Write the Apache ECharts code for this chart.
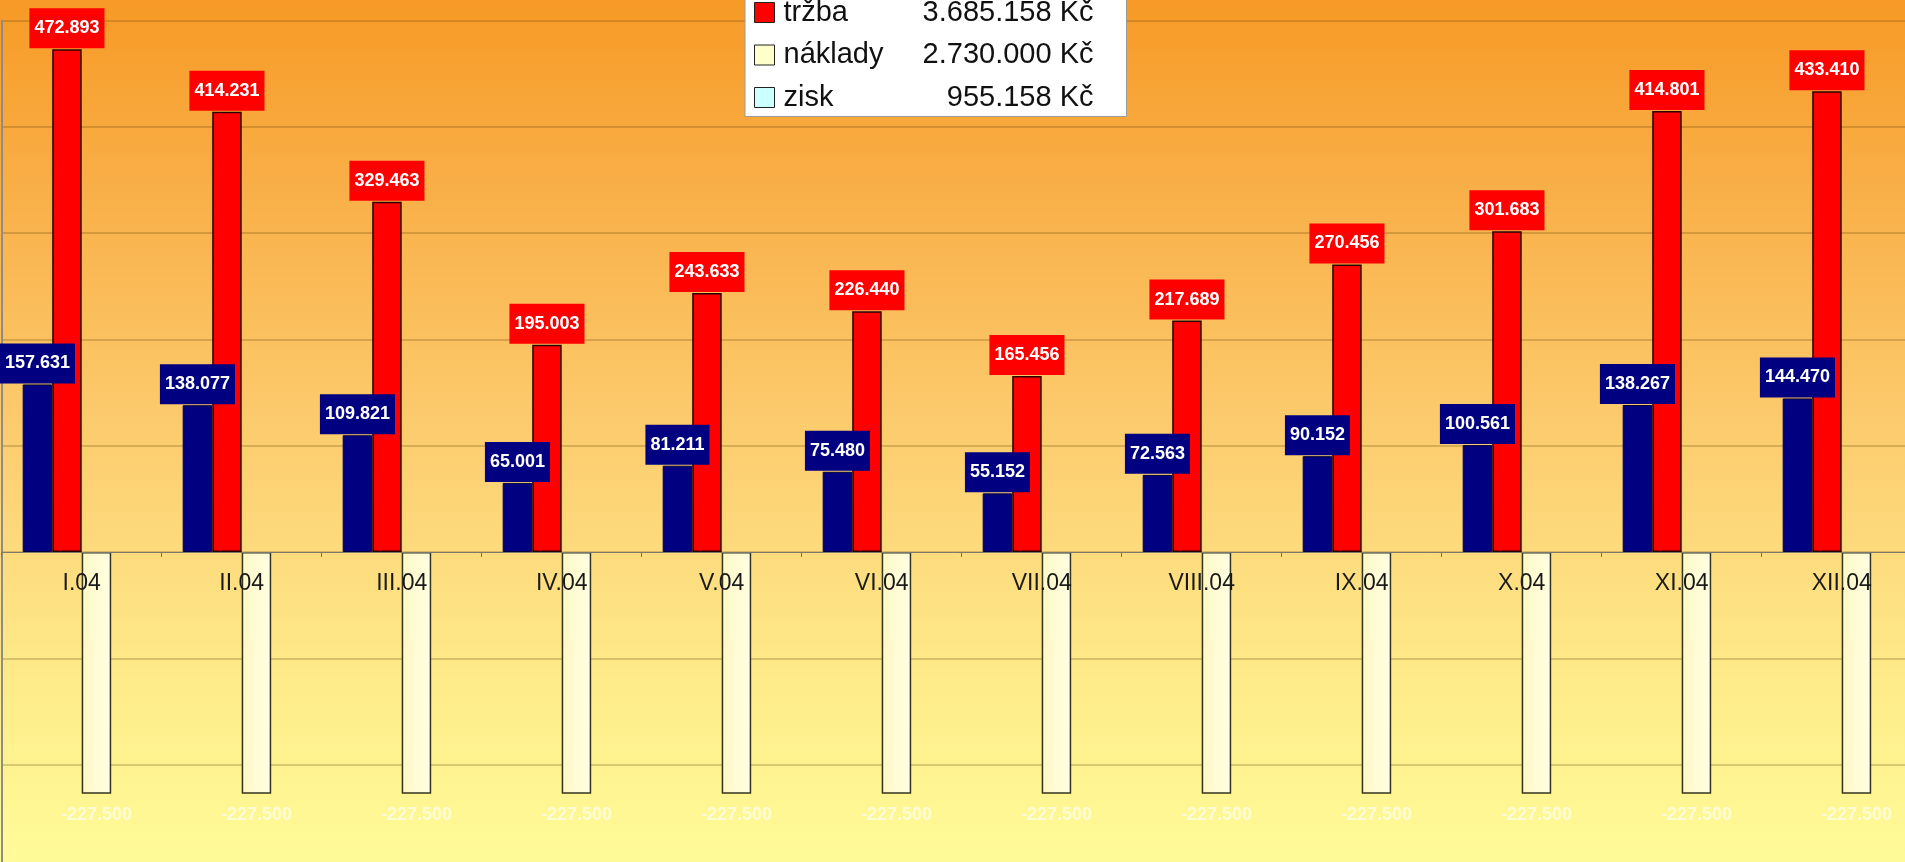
<!DOCTYPE html>
<html lang="cs">
<head>
<meta charset="utf-8">
<title>Tržba, náklady a zisk 2004</title>
<script src="https://cdn.jsdelivr.net/npm/echarts@6/dist/echarts.min.js"></script>
<style>
  html, body { margin: 0; padding: 0; overflow: hidden; }
  #chart { width: 1905px; height: 862px; }
</style>
</head>
<body>
<div id="chart"></div>
<script>
// Měsíce roku 2004
const months = ['I.04', 'II.04', 'III.04', 'IV.04', 'V.04', 'VI.04',
                'VII.04', 'VIII.04', 'IX.04', 'X.04', 'XI.04', 'XII.04'];

// Tržba za měsíc (Kč)
const trzba = [472893, 414231, 329463, 195003, 243633, 226440,
               165456, 217689, 270456, 301683, 414801, 433410];

// Zisk za měsíc (Kč)
const zisk = [157631, 138077, 109821, 65001, 81211, 75480,
              55152, 72563, 90152, 100561, 138267, 144470];

// Náklady za měsíc (Kč), vynášeny se záporným znaménkem
const naklady = [-227500, -227500, -227500, -227500, -227500, -227500,
                 -227500, -227500, -227500, -227500, -227500, -227500];

// Rozsah a krok svislé osy
const yMin = -300000;
const yMax = 500000;
const yStep = 100000;

// Číslo s tečkami jako oddělovači tisíců
function fmt(v) {
  const s = Math.round(Math.abs(v)).toString().replace(/\B(?=(\d{3})+(?!\d))/g, '.');
  return (v < 0 ? '-' : '') + s;
}

const sum = a => a.reduce((s, v) => s + v, 0);
const totalTrzba = sum(trzba);
const totalNaklady = -sum(naklady);
const totals = {
  'tržba': totalTrzba,
  'náklady': totalNaklady,
  'zisk': totalTrzba - totalNaklady
};

const FONT = 'Arial, "Liberation Sans", sans-serif';
const BAR_W = 29.5;

// Plocha grafu: horní okraj (hodnota yMax) a výška celé osy
const GRID_TOP = 20.5;
const GRID_H = 850.4;
// posun osy kategorií z dolního okraje na nulovou hodnotu
const X_OFFSET = -GRID_H * (0 - yMin) / (yMax - yMin);

function boxLabel(bg) {
  return {
    show: true,
    position: 'top',
    distance: 1,
    backgroundColor: bg,
    color: '#FFFFFF',
    fontFamily: FONT,
    fontWeight: 'bold',
    fontSize: 18,
    lineHeight: 20,
    padding: [10, 5, 10, 5],
    formatter: p => fmt(p.value)
  };
}

const chart = echarts.init(document.getElementById('chart'), null, { renderer: 'canvas' });

chart.setOption({
  animation: false,
  backgroundColor: {
    type: 'linear', x: 0, y: 0, x2: 0, y2: 1,
    colorStops: [
      { offset: 0.00, color: '#F79A26' },
      { offset: 0.25, color: '#F9B24C' },
      { offset: 0.50, color: '#FCCC6E' },
      { offset: 0.65, color: '#FDDC7E' },
      { offset: 0.80, color: '#FEEC8A' },
      { offset: 1.00, color: '#FFFB98' }
    ]
  },
  legend: {
    left: 745,
    top: -14.5,
    orient: 'vertical',
    backgroundColor: '#FFFFFF',
    borderColor: '#9A9A9A',
    borderWidth: 1,
    borderRadius: 0,
    padding: [10, 33, 2, 9],
    itemGap: 8.5,
    itemWidth: 20,
    itemHeight: 20,
    icon: 'rect',
    selectedMode: false,
    itemStyle: { borderColor: '#222222', borderWidth: 1 },
    data: [
      { name: 'tržba', itemStyle: { color: '#FF0000' } },
      { name: 'náklady', itemStyle: { color: '#FFFFCC' } },
      { name: 'zisk', itemStyle: { color: '#CCFFFF' } }
    ],
    formatter: name => '{n|' + name + '}{v|' + fmt(totals[name]) + ' Kč}',
    textStyle: {
      fontFamily: FONT,
      fontSize: 29,
      color: '#111111',
      lineHeight: 34,
      rich: {
        n: { fontFamily: FONT, fontSize: 29, color: '#111111', width: 120, padding: [0, 0, 0, 4] },
        v: { fontFamily: FONT, fontSize: 29, color: '#111111', width: 190, align: 'right' }
      }
    }
  },
  grid: {
    left: 1.7,
    top: GRID_TOP,
    width: 1920,
    height: GRID_H,
    containLabel: false,
    outerBoundsMode: 'none'
  },
  xAxis: {
    type: 'category',
    data: months,
    z: 10,
    offset: X_OFFSET,
    axisLine: { onZero: false, lineStyle: { color: '#7A7A6A', width: 1 } },
    axisTick: { show: true, length: 5, lineStyle: { color: '#7A7A6A' } },
    axisLabel: {
      color: '#1A1A1A',
      fontFamily: FONT,
      fontSize: 23,
      margin: 20
    },
    splitLine: { show: false }
  },
  yAxis: {
    type: 'value',
    min: yMin,
    max: yMax,
    interval: yStep,
    axisLine: { show: true, lineStyle: { color: '#8C8C8C', width: 2 } },
    axisTick: { show: false },
    axisLabel: { show: false },
    splitLine: { show: true, lineStyle: { color: 'rgba(90, 55, 0, 0.30)', width: 1.5 } }
  },
  series: [
    {
      name: 'zisk',
      type: 'bar',
      data: zisk,
      barWidth: BAR_W,
      barGap: '0%',
      itemStyle: { color: '#000080', borderColor: '#00003A', borderWidth: 1 },
      label: boxLabel('#000080')
    },
    {
      name: 'tržba',
      type: 'bar',
      data: trzba,
      barWidth: BAR_W,
      barGap: '0%',
      itemStyle: { color: '#FF0000', borderColor: '#2A0000', borderWidth: 1.5 },
      label: boxLabel('#FF0000')
    },
    {
      name: 'náklady',
      type: 'bar',
      data: naklady,
      barWidth: BAR_W,
      barGap: '0%',
      itemStyle: {
        color: {
          type: 'linear', x: 0, y: 0, x2: 1, y2: 0,
          colorStops: [
            { offset: 0, color: '#FFF8C4' },
            { offset: 1, color: '#FFFFE4' }
          ]
        },
        borderColor: '#333322',
        borderWidth: 1.5
      },
      label: {
        show: true,
        position: 'outside',
        distance: 12,
        color: 'rgba(255, 255, 238, 0.75)',
        fontFamily: FONT,
        fontWeight: 'bold',
        fontSize: 18,
        formatter: p => fmt(p.value)
      }
    },
    {
      // prázdná čtvrtá pozice ve skupině sloupců
      name: 'rezerva',
      type: 'bar',
      data: [],
      barWidth: BAR_W,
      barGap: '0%'
    }
  ]
});
</script>
</body>
</html>
